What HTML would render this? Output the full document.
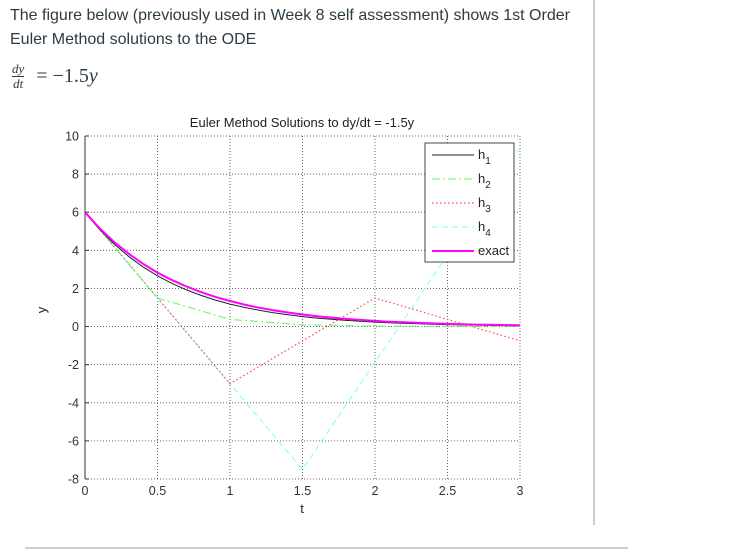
<!DOCTYPE html>
<html><head><meta charset="utf-8"><style>
body{margin:0;width:731px;height:550px;background:#fff;position:relative;overflow:hidden;font-family:"Liberation Sans",sans-serif;}
.t{position:absolute;left:10px;font-size:16px;color:#2d3b45;}
</style></head><body>
<div class="t" style="top:7px">The figure below (previously used in Week 8 self assessment) shows 1st Order</div>
<div class="t" style="top:31px">Euler Method solutions to the ODE</div>
<div style="position:absolute;left:12px;top:62px;font-family:'Liberation Serif',serif;color:#2d3b45;">
<span style="display:inline-block;text-align:center;font-style:italic;font-size:13px;vertical-align:middle;line-height:14px"><span style="border-bottom:1px solid #2d3b45;display:block">dy</span>dt</span>
<span style="font-size:20px;vertical-align:middle;margin-left:8px">= −1.5<i>y</i></span></div>
<div style="position:absolute;left:593px;top:0;width:2px;height:525px;background:#ccc"></div>
<div style="position:absolute;left:25px;top:547px;width:603px;height:2px;background:#ccc"></div>
<svg id="chart" width="731" height="550" style="position:absolute;left:0;top:0" font-family="Liberation Sans, sans-serif"></svg>
<script>
const xTicks=[0,0.5,1,1.5,2,2.5,3];
const yTicks=[10,8,6,4,2,0,-2,-4,-6,-8];
const tH1=[0,0.1,0.2,0.3,0.4,0.5,0.6,0.7,0.8,0.9,1,1.1,1.2,1.3,1.4,1.5,1.6,1.7,1.8,1.9,2,2.1,2.2,2.3,2.4,2.5,2.6,2.7,2.8,2.9,3];
const yH1=[6,5.1,4.335,3.685,3.132,2.662,2.263,1.924,1.635,1.390,1.181,1.004,0.853,0.725,0.617,0.524,0.446,0.379,0.322,0.274,0.233,0.198,0.168,0.143,0.121,0.103,0.088,0.075,0.063,0.054,0.046];
const tH2=[0,0.5,1,1.5,2,2.5,3];
const yH2=[6,1.5,0.375,0.094,0.023,0.006,0.001];
const tH3=[0,1,2,3];
const yH3=[6,-3,1.5,-0.75];
const tH4=[0,1.5,3];
const yH4=[6,-7.5,9.375];
const yExact=[6,5.164,4.445,3.826,3.293,2.834,2.439,2.100,1.807,1.555,1.339,1.152,0.992,0.854,0.735,0.632,0.544,0.468,0.403,0.347,0.299,0.257,0.221,0.190,0.164,0.141,0.121,0.104,0.090,0.077,0.067];
const L=85,R=520,T=136,B=479;
const sx=t=>L+(t-0)/3*(R-L);
const sy=v=>T+(10-v)/18*(B-T);
const svg=document.getElementById('chart');
const NS='http://www.w3.org/2000/svg';
function mk(tag,attrs,parent){const e=document.createElementNS(NS,tag);for(const k in attrs)e.setAttribute(k,attrs[k]);(parent||svg).appendChild(e);return e;}
const defs=mk('defs',{});const cp=mk('clipPath',{id:'clip'},defs);mk('rect',{x:L,y:T,width:R-L,height:B-T},cp);
mk('rect',{x:L,y:T,width:R-L,height:B-T,fill:'#fff'});
xTicks.forEach(t=>{const g=mk('line',{x1:sx(t),x2:sx(t),y1:T,y2:B,stroke:'#666','stroke-width':1,'stroke-dasharray':'1,2'});
const tx=mk('text',{x:sx(t),y:B+16,'text-anchor':'middle','font-size':12.5,fill:'#333'});tx.textContent=t;});
yTicks.forEach(v=>{const g=mk('line',{x1:L,x2:R,y1:sy(v),y2:sy(v),stroke:'#666','stroke-width':1,'stroke-dasharray':'1,2'});
mk('line',{x1:L,x2:L+4,y1:sy(v),y2:sy(v),stroke:'#333'});
const tx=mk('text',{x:L-6,y:sy(v)+4.5,'text-anchor':'end','font-size':12.5,fill:'#333'});tx.textContent=v;});
const ax=mk('line',{x1:L,x2:L,y1:T,y2:B,stroke:'#333','stroke-width':1});
const g=mk('g',{'clip-path':'url(#clip)'});
function series(ts,ys,style,name){const d=ts.map((t,i)=>(i?'L':'M')+sx(t).toFixed(1)+','+sy(ys[i]).toFixed(1)).join('');const p=mk('path',Object.assign({d:d,fill:'none'},style),g);}
series(tH4,yH4,{stroke:'#7ff','stroke-width':1,'stroke-dasharray':'6,4'},'series-h4');
series(tH3,yH3,{stroke:'#f55','stroke-width':1.3,'stroke-dasharray':'1.5,2.5'},'series-h3');
series(tH2,yH2,{stroke:'#5f5','stroke-width':1,'stroke-dasharray':'8,3,2,3'},'series-h2');
series(tH1,yH1,{stroke:'#222','stroke-width':1},'series-h1');
series(tH1,yExact,{stroke:'#f0f','stroke-width':2},'series-exact');
const ti=mk('text',{x:302,y:127,'text-anchor':'middle','font-size':13,fill:'#222'});ti.textContent='Euler Method Solutions to dy/dt = -1.5y';
const xl=mk('text',{x:302,y:513,'text-anchor':'middle','font-size':13,fill:'#222'});xl.textContent='t';
const yl=mk('text',{x:46,y:310,'text-anchor':'middle','font-size':13,fill:'#222',transform:'rotate(-90 46 310)'});yl.textContent='y';
const lg=mk('g',{});
mk('rect',{x:425,y:143,width:89,height:119,fill:'#fff',stroke:'#444'},lg);
const items=[['h','1',{stroke:'#222'}],['h','2',{stroke:'#5f5','stroke-dasharray':'8,3,2,3'}],['h','3',{stroke:'#f55','stroke-dasharray':'1.5,2.5','stroke-width':1.3}],['h','4',{stroke:'#7ff','stroke-dasharray':'6,4'}],['exact','',{stroke:'#f0f','stroke-width':2}]];
items.forEach((it,i)=>{const y=155+i*24;mk('line',Object.assign({x1:432,x2:474,y1:y,y2:y},it[2]),lg);
const tx=mk('text',{x:478,y:y+4,'font-size':13,fill:'#222'},lg);tx.textContent=it[0];
if(it[1]){const s=mk('tspan',{dy:5,'font-size':10},tx);s.textContent=it[1];}
});
</script>
</body></html>
